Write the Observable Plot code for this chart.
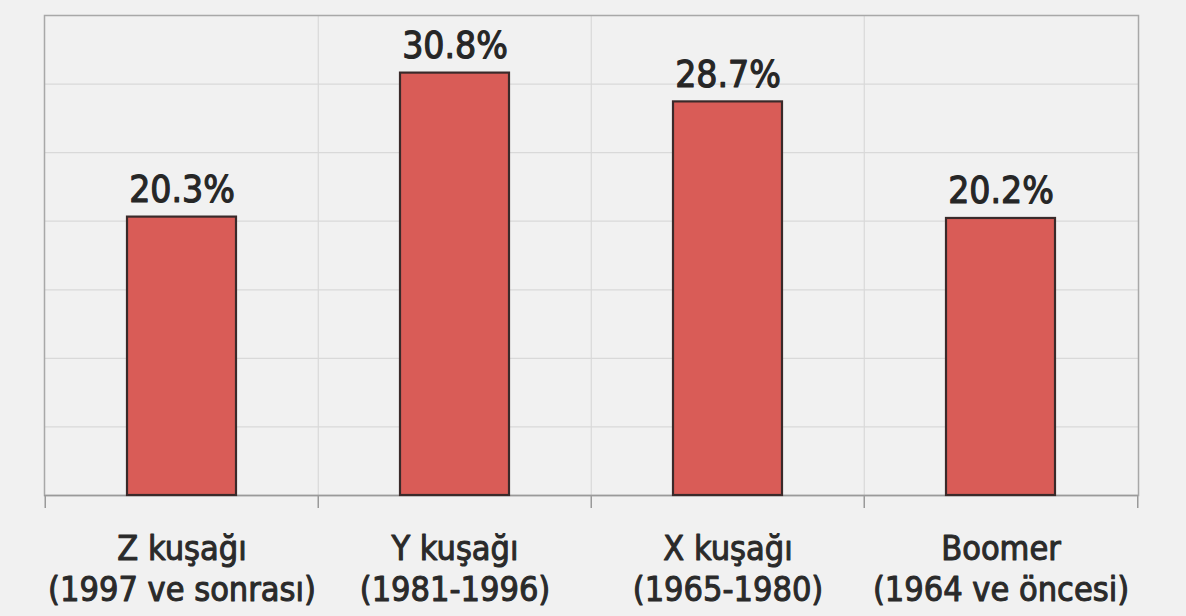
<!DOCTYPE html>
<html>
<head>
<meta charset="utf-8">
<script src="https://cdn.jsdelivr.net/npm/d3@7"></script>
<script src="https://cdn.jsdelivr.net/npm/@observablehq/plot@0.6"></script>
<style>
  html, body { margin: 0; padding: 0; background: #f1f1f1; }
  #chart svg { display: block; }
</style>
</head>
<body>
<div id="chart"></div>
<script>
const categories = ["Z kuşağı", "Y kuşağı", "X kuşağı", "Boomer"];
const subLabels = ["(1997 ve sonrası)", "(1981-1996)", "(1965-1980)", "(1964 ve öncesi)"];
const shares = [20.3, 30.8, 28.7, 20.2];
const gridTicks = [5, 10, 15, 20, 25, 30];

const data = categories.map((c, i) => ({category: c, sub: subLabels[i], value: shares[i]}));

const W = 1186, H = 616;
const mL = 44, mR = 48, mT = 15, mB = 121;
const step = (W - mL - mR) / categories.length;
const font = "'DejaVu Sans Condensed', 'DejaVu Sans', sans-serif";

const chart = Plot.plot({
  width: W,
  height: H,
  marginLeft: mL,
  marginRight: mR,
  marginTop: mT,
  marginBottom: mB,
  style: {background: "#f1f1f1", fontFamily: font, color: "#2a2a2a"},
  x: {domain: categories, paddingInner: 0.6, paddingOuter: 0.3, label: null},
  y: {domain: [0, 35], axis: null},
  marks: [
    Plot.ruleY(gridTicks, {stroke: "#d9d9d9", strokeWidth: 1.2}),
    Plot.ruleX(categories.slice(1), {x: d => d, y1: 0, y2: 35, dx: -step / 2, stroke: "#d9d9d9", strokeWidth: 1.2}),
    Plot.ruleX(categories, {x: d => d, y1: 0, y2: 0, insetBottom: -13, dx: -step / 2, stroke: "#9a9a9a", strokeWidth: 1.5}),
    Plot.ruleX([categories[categories.length - 1]], {x: d => d, y1: 0, y2: 0, insetBottom: -13, dx: step / 2, stroke: "#9a9a9a", strokeWidth: 1.5}),
    Plot.frame({stroke: "#a8a8a8", strokeWidth: 1.5}),
    Plot.ruleY([0], {stroke: "#9a9a9a", strokeWidth: 1.5}),
    Plot.barY(data, {x: "category", y: "value", fill: "#d95c57", stroke: "#3a2a2a", strokeWidth: 2.2}),
    Plot.text(data, {
      x: "category", y: "value",
      text: d => d.value.toFixed(1) + "%",
      lineAnchor: "bottom", dy: -15,
      fontSize: 37, fontWeight: "normal", fill: "#262626",
      stroke: "#262626", strokeWidth: 1.1
    }),
    Plot.axisX({
      tickSize: 0,
      tickPadding: 35,
      fontSize: 34,
      fontWeight: "normal",
      lineHeight: 1.22,
      fill: "#2a2a2a",
      textStroke: "#2a2a2a",
      textStrokeWidth: 1,
      textStrokeOpacity: 1,
      tickFormat: c => c + "\n" + subLabels[categories.indexOf(c)],
      label: null
    })
  ]
});
document.getElementById("chart").appendChild(chart);
</script>
</body>
</html>
